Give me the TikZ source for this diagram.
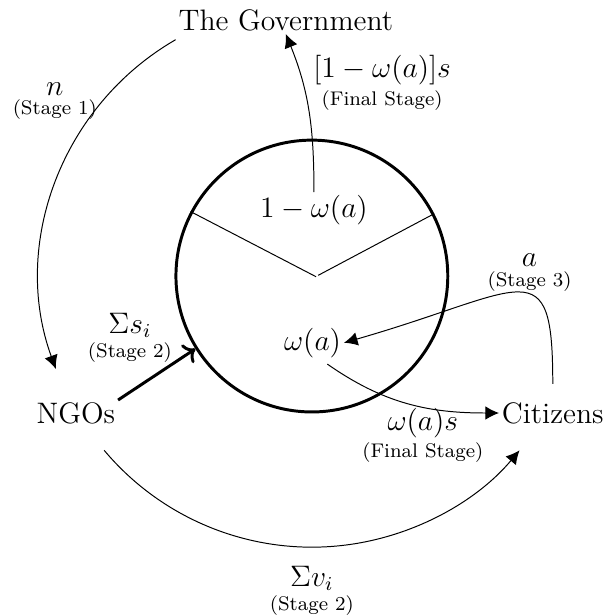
\documentclass[tikz,border=0pt,12pt]{standalone}
\usepackage{amsmath}
\usetikzlibrary{arrows.meta}
\newcommand{\staged}[2]{$\underset{\text{(#2)}}{#1}$}
\begin{document}
\begin{tikzpicture}[inner sep=1pt,flow/.style={-{Latex[length=5.5pt,width=5.5pt]}}]
\useasboundingbox (-4.44,-4.84) rectangle (4.14,3.93);
% the share circle
\node[circle,draw,very thick,minimum size=3.87cm,inner sep=0pt] (pie) at (0,0) {};
\draw (pie.152.5) -- (0.06,-0.01);
\draw (0.09,0.01) -- (pie.27.5);
\node (onemw) at (0.03,0.94) {$1-\omega(a)$};
\node (wa) at (0.01,-0.95) {$\omega(a)$};

% players
\node (gov) at (-0.37,3.64) {The Government};
\node (ngos) at (-3.36,-1.96) {NGOs};
\node (cit) at (3.43,-1.95) {Citizens};
\coordinate (v0) at (220:3.86);

% flows
\draw[flow] ([yshift=-0.08cm]gov.south west) arc[start angle=120,end angle=200,radius=3.88];
\draw[flow] (v0) arc[start angle=220,end angle=320,radius=3.86];
\draw[very thick,->] (ngos.north east) -- (pie.212);
\draw[flow] (onemw.north) to[out=90,in=-68] (gov.south);
\draw[flow] ([yshift=0.22cm]cit.north) to[out=90,in=16,out distance=1.95cm,in distance=2.7cm] (wa.east);
\draw[flow] ([xshift=0.21cm,yshift=-0.05cm]wa.south) to[out=-35,in=180] (cit.west);

% labels
\node (lstage1) at (-3.66,2.47) {\staged{n}{Stage 1}};
\node (lfinal1) at (1.0,2.73) {\staged{[1-\omega(a)]s}{Final Stage}};
\node (lstage3) at (3.10,0.03) {\staged{a}{Stage 3}};
\node (lsums) at (-2.59,-0.90) {\staged{\Sigma s_i}{Stage 2}};
\node (lfinal2) at (1.58,-2.29) {\staged{\omega(a)s}{Final Stage}};
\node (lsumv) at (0,-4.50) {\staged{\Sigma v_i}{Stage 2}};
\end{tikzpicture}
\end{document}
